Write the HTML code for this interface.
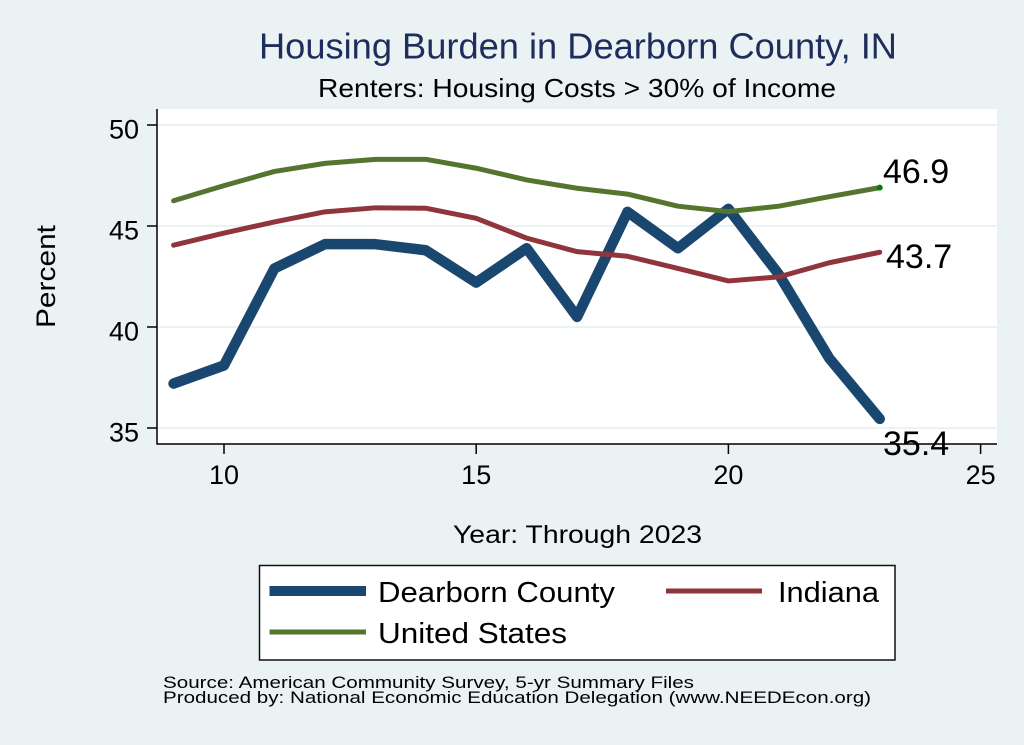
<!DOCTYPE html>
<html>
<head>
<meta charset="utf-8">
<style>
  html,body{margin:0;padding:0;background:#eaf2f3;}
  svg{display:block;}
  text{font-family:"Liberation Sans", Arial, sans-serif;}
</style>
</head>
<body>
<svg width="1024" height="745" viewBox="0 0 1024 745" xmlns="http://www.w3.org/2000/svg">
  <rect x="0" y="0" width="1024" height="745" fill="#eaf2f3"/>

  <!-- Titles -->
  <text x="259" y="58.5" font-size="36" fill="#1e2d5c" textLength="638" lengthAdjust="spacingAndGlyphs">Housing Burden in Dearborn County, IN</text>
  <text x="318" y="97" font-size="26" fill="#000" textLength="518" lengthAdjust="spacingAndGlyphs">Renters: Housing Costs &gt; 30% of Income</text>

  <!-- Plot region -->
  <rect x="157" y="109" width="840" height="335" fill="#ffffff"/>

  <!-- gridlines -->
  <g stroke="#eaf2f3" stroke-width="2">
    <line x1="158" y1="125" x2="997" y2="125"/>
    <line x1="158" y1="226" x2="997" y2="226"/>
    <line x1="158" y1="327" x2="997" y2="327"/>
    <line x1="158" y1="428" x2="997" y2="428"/>
  </g>

  <!-- axes -->
  <g stroke="#000" stroke-width="1.5">
    <line x1="157" y1="109" x2="157" y2="444.5"/>
    <line x1="156.5" y1="444" x2="997" y2="444"/>
    <line x1="147" y1="125" x2="157" y2="125"/>
    <line x1="147" y1="226" x2="157" y2="226"/>
    <line x1="147" y1="327" x2="157" y2="327"/>
    <line x1="147" y1="428" x2="157" y2="428"/>
    <line x1="224" y1="444" x2="224" y2="454"/>
    <line x1="476.2" y1="444" x2="476.2" y2="454"/>
    <line x1="728.4" y1="444" x2="728.4" y2="454"/>
    <line x1="980.6" y1="444" x2="980.6" y2="454"/>
  </g>

  <!-- y tick labels -->
  <g font-size="27" fill="#000" text-anchor="end">
    <text x="139" y="138.5">50</text>
    <text x="139" y="239.5">45</text>
    <text x="139" y="340.5">40</text>
    <text x="139" y="441.5">35</text>
  </g>
  <!-- x tick labels -->
  <g font-size="27" fill="#000" text-anchor="middle">
    <text x="224" y="484">10</text>
    <text x="476.2" y="484">15</text>
    <text x="728.4" y="484">20</text>
    <text x="980.6" y="484">25</text>
  </g>

  <!-- axis titles -->
  <text x="453" y="543" font-size="25" fill="#000" textLength="249" lengthAdjust="spacingAndGlyphs">Year: Through 2023</text>
  <text transform="translate(55,328) rotate(-90)" x="0" y="0" font-size="27" fill="#000" textLength="103" lengthAdjust="spacingAndGlyphs">Percent</text>

  <!-- Series -->
  <polyline fill="none" stroke="#1a476f" stroke-width="10.5" stroke-linejoin="round" stroke-linecap="round"
    points="173.56,383.56 224,365.38 274.44,268.42 324.88,244.18 375.32,244.18 425.76,250.24 476.2,282.56 526.64,248.22 577.08,316.9 627.52,211.86 677.96,248.22 728.4,208.83 778.84,274.48 829.28,358.31 879.72,418.91"/>
  <polyline fill="none" stroke="#90353b" stroke-width="5" stroke-linejoin="round" stroke-linecap="round"
    points="173.56,245.19 224,233.07 274.44,221.96 324.88,211.86 375.32,207.82 425.76,208.22 476.2,218.32 526.64,238.12 577.08,251.65 627.52,256.3 677.96,268.42 728.4,280.94 778.84,276.9 829.28,262.76 879.72,252.26"/>
  <polyline fill="none" stroke="#55752f" stroke-width="5" stroke-linejoin="round" stroke-linecap="round"
    points="173.56,200.75 224,185.6 274.44,171.46 324.88,163.38 375.32,159.34 425.76,159.34 476.2,168.23 526.64,179.94 577.08,188.23 627.52,194.08 677.96,206.2 728.4,211.66 778.84,206.2 829.28,196.71 879.72,187.62"/>
  <circle cx="879.7" cy="187.6" r="3" fill="#008000"/>

  <!-- value labels -->
  <g font-size="34" fill="#000">
    <text x="883" y="183">46.9</text>
    <text x="886" y="268">43.7</text>
    <text x="883" y="455">35.4</text>
  </g>

  <!-- Legend -->
  <rect x="259.5" y="565.5" width="635.5" height="94.5" fill="#ffffff" stroke="#111" stroke-width="1.5"/>
  <line x1="269.5" y1="591" x2="366" y2="591" stroke="#1a476f" stroke-width="10"/>
  <line x1="269.5" y1="632" x2="366" y2="632" stroke="#55752f" stroke-width="5"/>
  <line x1="666" y1="591" x2="762" y2="591" stroke="#90353b" stroke-width="5"/>
  <g font-size="29" fill="#000">
    <text x="378" y="602" textLength="237" lengthAdjust="spacingAndGlyphs">Dearborn County</text>
    <text x="378" y="643" textLength="189" lengthAdjust="spacingAndGlyphs">United States</text>
    <text x="778" y="602" textLength="101" lengthAdjust="spacingAndGlyphs">Indiana</text>
  </g>

  <!-- Footnote -->
  <g font-size="17" fill="#000">
    <text x="163" y="688" textLength="531" lengthAdjust="spacingAndGlyphs">Source: American Community Survey, 5-yr Summary Files</text>
    <text x="163" y="703" textLength="708" lengthAdjust="spacingAndGlyphs">Produced by: National Economic Education Delegation (www.NEEDEcon.org)</text>
  </g>
</svg>
</body>
</html>
